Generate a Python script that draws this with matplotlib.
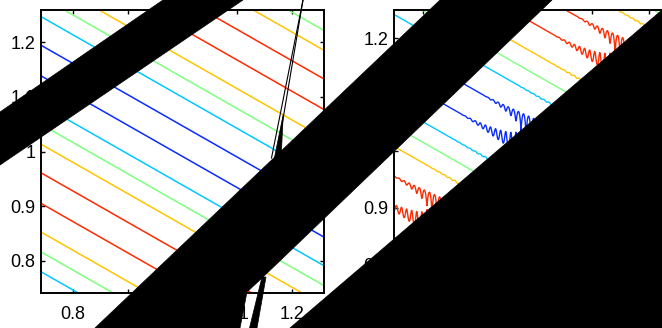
import numpy as np
import matplotlib
matplotlib.use("Agg")
import matplotlib.pyplot as plt
from matplotlib.patches import Polygon
from matplotlib.lines import Line2D

plt.rcParams['font.family'] = ['Liberation Sans', 'DejaVu Sans']

# contour levels and their colours (jet-like)
levels = [-0.93, -0.47, 0.0, 0.47, 0.93]
level_colors = ['#0a2dff', '#00c8ff', '#7dff7d', '#ffc400', '#ff2a00']

# the field is a cosine wave; contour lines are y + slope*x = const
wave_slope = 0.57
wave_period = 0.467
wave_phase = 1.3554

# small oscillations in the second panel, growing toward lower right
wiggle_amp = 0.075
wiggle_len = 0.009
wiggle_dir = 0.855
wiggle_start = -0.33
wiggle_full = -0.20

left_lim = [0.741, 1.259]
right_lim = [0.75, 1.25]
ticks = [0.8, 0.9, 1.0, 1.1, 1.2]
tick_labels = ['0.8', '0.9', '1', '1.1', '1.2']

# black shapes drawn over the figure, in pixels of the 662x328 picture (y down)
blobs = [
    [(0, 112), (163, 0), (243, 0), (0, 165)],
    [(95, 328), (440, 0), (552, 0), (262, 278), (247, 292), (240, 328)],
    [(262, 277), (266, 277), (257, 328), (249.5, 328)],
    [(283.3, 114), (274, 160), (281, 160)],
    [(290, 328), (662, 10), (662, 328), (290, 328)],
]
thin_lines = [[(303, 0), (271.5, 158)], [(303, 0), (276.5, 158)]]

W, H = 662, 328


def field(x, y):
    return np.cos(2 * np.pi * (y + wave_slope * x - wave_phase) / wave_period)


def px_rect(l, t, w, h):
    return [l / W, 1 - (t + h) / H, w / W, h / H]


def style(ax, lim):
    ax.set_xlim(lim)
    ax.set_ylim(lim)
    ax.set_xticks(ticks)
    ax.set_xticklabels(tick_labels)
    ax.set_yticks(ticks)
    ax.set_yticklabels(tick_labels)
    ax.tick_params(direction='in', top=True, right=True, length=3, width=1,
                   labelsize=13, colors='black')
    ax.tick_params(axis='x', pad=9.5)
    ax.tick_params(axis='y', pad=4)
    for s in ax.spines.values():
        s.set_linewidth(1.4)


fig = plt.figure(figsize=(W / 100, H / 100), dpi=100)

# left panel: clean contours
ax1 = fig.add_axes(px_rect(41, 10, 283, 283))
gx = np.linspace(left_lim[0], left_lim[1], 400)
X, Y = np.meshgrid(gx, gx)
ax1.contour(X, Y, field(X, Y), levels=levels, colors=level_colors, linewidths=1.1)
style(ax1, left_lim)

# right panel: same field with oscillations
ax2 = fig.add_axes(px_rect(394.3, 10, 282.5, 282.5))
gx2 = np.linspace(right_lim[0], right_lim[1], 900)
X2, Y2 = np.meshgrid(gx2, gx2)
f0 = field(X2, Y2)
w = wiggle_dir * X2 - Y2
env = np.clip((w - wiggle_start) / (wiggle_full - wiggle_start), 0, 1) ** 1.5
f2 = f0 + wiggle_amp * env * f0 ** 2 * np.sin(2 * np.pi * X2 / wiggle_len)
ax2.contour(X2, Y2, f2, levels=levels, colors=level_colors, linewidths=1.0)
style(ax2, right_lim)

# black overlays
for pts in blobs:
    fp = [(x / W, 1 - y / H) for x, y in pts]
    fig.add_artist(Polygon(fp, closed=True, facecolor='black', edgecolor='black',
                           linewidth=0.5, transform=fig.transFigure, zorder=20))
for pts in thin_lines:
    xs = [p[0] / W for p in pts]
    ys = [1 - p[1] / H for p in pts]
    fig.add_artist(Line2D(xs, ys, color='black', linewidth=0.8,
                          transform=fig.transFigure, zorder=20))

fig.savefig('out.png', dpi=100)
